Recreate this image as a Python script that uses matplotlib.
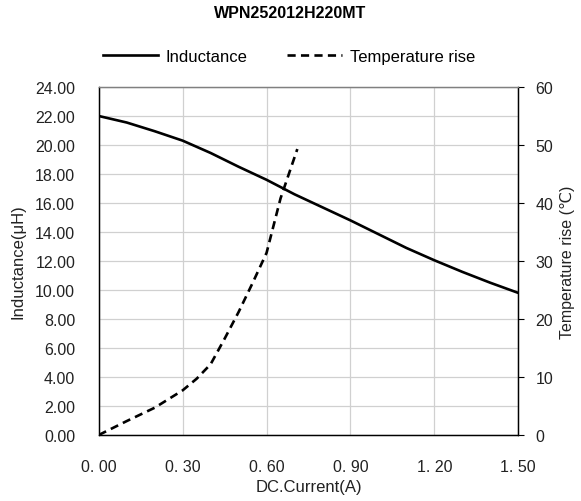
import matplotlib
matplotlib.use("Agg")
import matplotlib.pyplot as plt
from matplotlib.lines import Line2D

plt.rcParams["font.family"] = ["Liberation Sans", "DejaVu Sans"]

# data
current_l = [0.0, 0.1, 0.2, 0.3, 0.4, 0.5, 0.6, 0.7, 0.8, 0.9, 1.0, 1.1, 1.2, 1.3, 1.4, 1.5]
inductance = [22.0, 21.55, 20.95, 20.3, 19.45, 18.5, 17.6, 16.6, 15.7, 14.8,
              13.85, 12.9, 12.05, 11.25, 10.5, 9.8]

current_t = [0.0, 0.1, 0.2, 0.3, 0.35, 0.4, 0.45, 0.5, 0.55, 0.6, 0.65, 0.71]
temp_rise = [0.0, 2.4, 4.7, 7.7, 9.7, 12.2, 16.6, 21.2, 26.2, 31.4, 40.8, 49.3]

x_ticks = [0.0, 0.3, 0.6, 0.9, 1.2, 1.5]
x_labels = ["0. 00", "0. 30", "0. 60", "0. 90", "1. 20", "1. 50"]
l_ticks = list(range(0, 26, 2))
t_ticks = list(range(0, 70, 10))

txt = "#222222"

fig = plt.figure(figsize=(5.81, 5.02), dpi=100)
ax = fig.add_axes([0.170, 0.1315, 0.722, 0.6932])
ax2 = ax.twinx()

ax.plot(current_l, inductance, color="black", lw=1.9)
ax2.plot(current_t, temp_rise, color="black", lw=1.9, dashes=(3.1, 2.0))

ax.set_xlim(0, 1.5)
ax.set_ylim(0, 24)
ax2.set_ylim(0, 60)
ax.set_xticks(x_ticks)
ax.set_xticklabels(x_labels)
ax.set_yticks(l_ticks)
ax.set_yticklabels([f"{v:.2f}" for v in l_ticks])
ax2.set_yticks(t_ticks)

ax.grid(True, color="#d0d0d0", lw=0.9)
ax.set_axisbelow(True)

ax.tick_params(axis="y", length=0, labelsize=11.5, colors=txt, pad=17)
ax.tick_params(axis="x", length=0, labelsize=11.5, colors=txt, pad=17)
ax2.tick_params(axis="y", length=4.5, width=0.8, labelsize=11.5, labelcolor=txt,
                color="black", pad=8)

for a in (ax, ax2):
    for s in a.spines.values():
        s.set_color("black")
        s.set_linewidth(0.9)
    a.spines["top"].set_color("#808080")

ax.set_xlabel("DC.Current(A)", fontsize=12, color=txt, labelpad=4)
ax.set_ylabel("Inductance(μH)", fontsize=12, color=txt, labelpad=7)
ax2.set_ylabel("Temperature rise (℃)", fontsize=11.5, color=txt, labelpad=5)

fig.suptitle("WPN252012H220MT", y=0.988, fontsize=11.5, fontweight="bold")

handles = [Line2D([], [], color="black", lw=1.9),
           Line2D([], [], color="black", lw=1.9, dashes=(3.1, 2.0))]
fig.legend(handles, ["Inductance", "Temperature rise"], loc="center",
           bbox_to_anchor=(0.497, 0.886), ncol=2, frameon=False, fontsize=12,
           handlelength=3.3, columnspacing=2.4, handletextpad=0.45)

fig.savefig("out.png", dpi=100)
